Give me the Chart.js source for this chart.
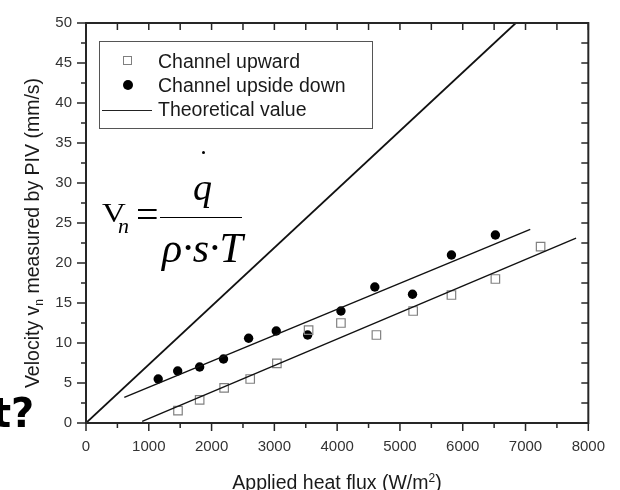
<!DOCTYPE html>
<html><head><meta charset="utf-8">
<script src="https://cdn.jsdelivr.net/npm/chart.js@4.4.1/dist/chart.umd.min.js"></script>
<style>
html,body{margin:0;padding:0;background:#fff;overflow:hidden}
#wrap{position:relative;width:620px;height:490px;overflow:hidden}
canvas{position:absolute;left:0;top:0}
.t{position:absolute;white-space:nowrap;font-family:"Liberation Sans",Arial,sans-serif;color:#1a1a1a;line-height:19px;font-size:19.5px}
.f{position:absolute;white-space:nowrap;font-family:"Liberation Serif","Times New Roman",serif;color:#000;line-height:1}
</style></head>
<body><div id="wrap">
<canvas id="c" width="620" height="490"></canvas>
<!-- axis titles -->
<div class="t" style="left:36px;top:232.5px;transform:translate(-50%,-50%) rotate(-90deg);">Velocity v<sub style="font-size:12px;vertical-align:-4px">n</sub> measured by PIV (mm/s)</div>
<div class="t" style="left:337px;top:469px;transform:translateX(-50%);">Applied heat flux (W/m<sup style="font-size:12px;vertical-align:7px">2</sup>)</div>
<!-- legend -->
<div style="position:absolute;left:99px;top:41px;width:272px;height:86px;border:1px solid #555;"></div>
<div style="position:absolute;left:123px;top:56px;width:7px;height:7px;border:1px solid #7f7f7f;background:#fff"></div>
<div style="position:absolute;left:123px;top:80px;width:10px;height:10px;border-radius:50%;background:#000"></div>
<div style="position:absolute;left:102px;top:109.5px;width:50px;height:1.5px;background:#222"></div>
<div class="t" style="left:158px;top:51.6px">Channel upward</div>
<div class="t" style="left:158px;top:75.6px">Channel upside down</div>
<div class="t" style="left:158px;top:99.6px">Theoretical value</div>
<!-- formula -->
<div class="f" style="left:102px;top:199.5px;font-size:27px;transform:scaleX(1.22);transform-origin:left top">V</div>
<div class="f" style="left:118px;top:214.6px;font-size:22px;font-style:italic">n</div>
<div class="f" style="left:136px;top:195.2px;font-size:40px">=</div>
<div style="position:absolute;left:160px;top:216.5px;width:82px;height:1.5px;background:#000"></div>
<div style="position:absolute;left:201.5px;top:150.5px;width:3px;height:3px;border-radius:50%;background:#000"></div>
<div class="f" style="left:193px;top:167.7px;font-size:38px;font-style:italic">q</div>
<div class="f" style="left:162px;top:226.8px;font-size:42px;font-style:italic">ρ·s·T</div>
<!-- cropped slide text -->
<div style="position:absolute;left:-8px;top:393px;font-family:'DejaVu Sans',sans-serif;font-weight:bold;font-size:40px;line-height:1;color:#000;white-space:nowrap">t?</div>
</div>
<script>
const xTickValues = [0, 1000, 2000, 3000, 4000, 5000, 6000, 7000, 8000];
const yTickValues = [0, 5, 10, 15, 20, 25, 30, 35, 40, 45, 50];

const upwardX = [1465, 1810, 2200, 2615, 3040, 3545, 4060, 4625, 5210, 5820, 6520, 7240];
const upwardY = [1.55, 2.9, 4.4, 5.5, 7.45, 11.6, 12.5, 11.0, 14.0, 16.0, 18.0, 22.05];

const downX = [1150, 1460, 1810, 2190, 2590, 3030, 3530, 4060, 4600, 5200, 5820, 6520];
const downY = [5.5, 6.5, 7.0, 8.0, 10.6, 11.5, 11.0, 14.0, 17.0, 16.1, 21.0, 23.5];

const downFitX = [610, 7075];
const downFitY = [3.2, 24.2];
const upwardFitX = [895, 7805];
const upwardFitY = [0.2, 23.1];
const theoryX = [0, 6845];
const theoryY = [0, 50];

const pts = (xs, ys) => xs.map((v, i) => ({x: v, y: ys[i]}));

const frame = {
  id: 'frame',
  afterDraw(chart) {
    const {ctx, chartArea: a, scales: {x, y}} = chart;
    ctx.save();
    ctx.strokeStyle = '#262626';
    ctx.lineWidth = 1.5;
    for (let v = 0; v <= 8000; v += 500) {
      const px = x.getPixelForValue(v);
      const major = v % 1000 === 0;
      ctx.beginPath();
      ctx.moveTo(px, a.bottom); ctx.lineTo(px, a.bottom + (major ? 8 : 5));
      ctx.moveTo(px, a.top); ctx.lineTo(px, a.top + 7);
      ctx.stroke();
    }
    for (let v = 0; v <= 50; v += 2.5) {
      const py = y.getPixelForValue(v);
      const major = v % 5 === 0;
      ctx.beginPath();
      ctx.moveTo(a.left, py); ctx.lineTo(a.left - (major ? 9 : 5), py);
      ctx.moveTo(a.right, py); ctx.lineTo(a.right - 7, py);
      ctx.stroke();
    }
    ctx.lineWidth = 2;
    ctx.strokeRect(a.left, a.top, a.right - a.left, a.bottom - a.top);
    ctx.restore();
  }
};

new Chart(document.getElementById('c'), {
  type: 'scatter',
  data: {
    datasets: [
      {label: 'Theoretical value', data: pts(theoryX, theoryY), showLine: true, borderColor: '#111', borderWidth: 1.8, pointRadius: 0},
      {label: 'Fit upside down', data: pts(downFitX, downFitY), showLine: true, borderColor: '#111', borderWidth: 1.4, pointRadius: 0},
      {label: 'Fit upward', data: pts(upwardFitX, upwardFitY), showLine: true, borderColor: '#111', borderWidth: 1.4, pointRadius: 0},
      {label: 'Channel upward', data: pts(upwardX, upwardY), pointStyle: 'rect', pointRadius: 6, borderColor: '#808080', backgroundColor: 'rgba(255,255,255,0)', borderWidth: 1.2},
      {label: 'Channel upside down', data: pts(downX, downY), pointStyle: 'circle', pointRadius: 4.7, borderColor: '#000', backgroundColor: '#000', borderWidth: 0}
    ]
  },
  options: {
    responsive: false,
    animation: false,
    layout: {padding: {top: 13, right: 30, left: 0, bottom: 0}},
    plugins: {legend: {display: false}, tooltip: {enabled: false}},
    scales: {
      x: {
        type: 'linear', min: 0, max: 8000,
        afterBuildTicks: s => { s.ticks = xTickValues.map(v => ({value: v})); },
        afterFit: s => { s.height = 67; },
        ticks: {color: '#333', font: {family: 'Liberation Sans', size: 15}, padding: 15, callback: v => String(v), maxRotation: 0, autoSkip: false},
        grid: {display: false, drawTicks: false},
        border: {display: false}
      },
      y: {
        type: 'linear', min: 0, max: 50,
        afterBuildTicks: s => { s.ticks = yTickValues.map(v => ({value: v})); },
        afterFit: s => { s.width = 86; },
        ticks: {color: '#333', font: {family: 'Liberation Sans', size: 15}, padding: 14, callback: v => String(v), autoSkip: false},
        grid: {display: false, drawTicks: false},
        border: {display: false}
      }
    }
  },
  plugins: [frame]
});
</script>
</body></html>
